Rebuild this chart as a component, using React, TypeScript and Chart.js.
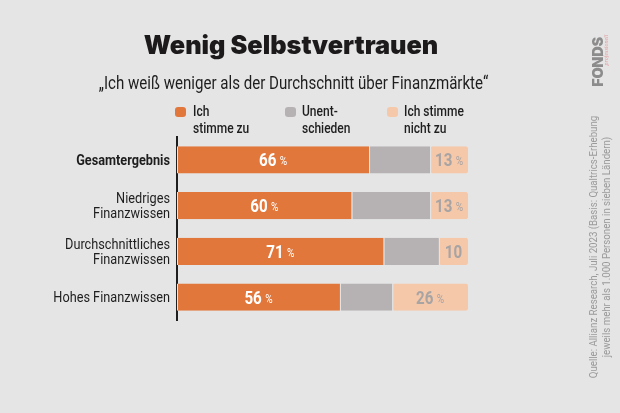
import React, { useEffect, useRef } from "react";
import { Chart, registerables } from "chart.js";

Chart.register(...registerables);

const categories: string[][] = [
  ["Gesamtergebnis"],
  ["Niedriges", "Finanzwissen"],
  ["Durchschnittliches", "Finanzwissen"],
  ["Hohes Finanzwissen"],
];
const agree = [66, 60, 71, 56];
const undecided = [21, 27, 19, 18];
const disagree = [13, 13, 10, 26];
const seriesNames = [["Ich", "stimme zu"], ["Unent-", "schieden"], ["Ich stimme", "nicht zu"]];

const BG = "#e5e5e5";
const ORANGE = "#e2773b";
const GREY = "#b6b2b4";
const LIGHT = "#f5c8aa";
const SANS = "Roboto, 'Noto Sans', sans-serif";
const K = 0.84; // horizontal condensing of text

const tickLabels = {
  id: "tickLabels",
  afterDraw(chart: any) {
    const s = chart.scales.y;
    const ctx = chart.ctx;
    const labels = chart.data.labels as string[][];
    s.ticks.forEach((_t: any, i: number) => {
      const y = s.getPixelForTick(i);
      const lines = labels[i];
      lines.forEach((ln, k) => {
        const ly = y + (k - (lines.length - 1) / 2) * 15;
        ctx.save();
        ctx.translate(s.right - 7, ly);
        ctx.scale(0.82, 1);
        ctx.fillStyle = "#1e1e1e";
        ctx.textAlign = "right";
        ctx.textBaseline = "middle";
        ctx.font = `${i === 0 ? "bold" : "normal"} 15.5px ${SANS}`;
        ctx.fillText(ln, 0, 1);
        ctx.restore();
      });
    });
  },
};

const valueLabels = {
  id: "valueLabels",
  afterDatasetsDraw(chart: any) {
    const ctx = chart.ctx;
    [0, 2].forEach((di) => {
      const meta = chart.getDatasetMeta(di);
      const values = chart.data.datasets[di].data as number[];
      meta.data.forEach((bar: any, j: number) => {
        const { x, base, y } = bar.getProps(["x", "base", "y"], true);
        const cx = (x + base) / 2;
        const v = values[j];
        const num = String(v);
        const pct = v >= 12 ? "%" : "";
        ctx.save();
        ctx.fillStyle = di === 0 ? "#ffffff" : "#a8a4a4";
        ctx.textBaseline = "alphabetic";
        ctx.font = `bold 18px ${SANS}`;
        const wn = ctx.measureText(num).width;
        ctx.font = `12px ${SANS}`;
        const wp = pct ? ctx.measureText(pct).width : 0;
        const gap = pct ? 4 : 0;
        const total = (wn + gap + wp) * K;
        ctx.translate(cx - total / 2, y);
        ctx.scale(K, 1);
        ctx.font = `bold 18px ${SANS}`;
        ctx.fillText(num, 0, 6.5);
        if (pct) {
          ctx.font = `12px ${SANS}`;
          ctx.fillText(pct, wn + gap, 5.5);
        }
        ctx.restore();
      });
    });
  },
};

export default function App() {
  const ref = useRef<HTMLCanvasElement | null>(null);

  useEffect(() => {
    if (!ref.current) return;
    const mk = (label: string, data: number[], color: string) => ({
      label,
      data,
      backgroundColor: color,
      borderColor: BG,
      borderWidth: { left: 1, right: 0, top: 0, bottom: 0 },
      borderRadius: 2,
      borderSkipped: false,
      categoryPercentage: 1,
      barPercentage: 0.6,
    });
    const chart = new Chart(ref.current, {
      type: "bar",
      data: {
        labels: categories,
        datasets: [
          mk(seriesNames[0].join(" "), agree, ORANGE),
          mk(seriesNames[1].join(" "), undecided, GREY),
          mk(seriesNames[2].join(" "), disagree, LIGHT),
        ] as any,
      },
      options: {
        indexAxis: "y",
        responsive: false,
        animation: false,
        devicePixelRatio: 1,
        layout: { padding: { left: 0, right: 152, top: 137, bottom: 93 } },
        plugins: { legend: { display: false }, tooltip: { enabled: false } },
        scales: {
          x: { stacked: true, min: 0, max: 100, display: false },
          y: {
            stacked: true,
            grid: { display: false, drawTicks: false },
            border: { display: true, color: "#1e1e1e", width: 2 },
            afterFit: (s: any) => {
              s.width = 177;
            },
            ticks: { display: false },
          },
        },
      } as any,
      plugins: [valueLabels, tickLabels],
    });
    return () => chart.destroy();
  }, []);

  const legendItem = (sq: number, tx: number, color: string, lines: string[]) => (
    <React.Fragment key={tx}>
      <div
        style={{
          position: "absolute",
          left: sq,
          top: 107,
          width: 11,
          height: 10,
          borderRadius: 3,
          background: color,
        }}
      />
      <div
        style={{
          position: "absolute",
          left: tx,
          top: 103,
          fontFamily: SANS,
          fontWeight: 500,
          fontSize: 15,
          lineHeight: "16.5px",
          color: "#1e1e1e",
          whiteSpace: "nowrap",
          transform: `scaleX(0.8)`,
          transformOrigin: "0 0",
        }}
      >
        {lines[0]}
        <br />
        {lines[1]}
      </div>
    </React.Fragment>
  );

  return (
    <div
      style={{
        position: "absolute",
        left: 0,
        top: 0,
        width: 620,
        height: 413,
        background: BG,
        overflow: "hidden",
      }}
    >
      <canvas ref={ref} width={620} height={413} style={{ position: "absolute", left: 0, top: 0 }} />
      <div
        style={{
          position: "absolute",
          left: 0,
          width: 582,
          top: 29,
          textAlign: "center",
          fontFamily: "Inter, Lato, sans-serif",
          fontWeight: 900,
          fontSize: 25.3,
          color: "#1c1a1a",
          lineHeight: "32px",
          whiteSpace: "nowrap",
        }}
      >
        Wenig Selbstvertrauen
      </div>
      <div
        style={{
          position: "absolute",
          left: 0,
          width: 587,
          top: 72,
          textAlign: "center",
          fontFamily: SANS,
          fontSize: 18.5,
          color: "#1e1e1e",
          lineHeight: "22px",
          whiteSpace: "nowrap",
          transform: `scaleX(0.815)`,
          transformOrigin: "50% 0",
        }}
      >
        „Ich weiß weniger als der Durchschnitt über Finanzmärkte“
      </div>
      {legendItem(175, 193, ORANGE, seriesNames[0])}
      {legendItem(285, 302, GREY, seriesNames[1])}
      {legendItem(387, 404, LIGHT, seriesNames[2])}
      <div
        style={{
          position: "absolute",
          left: 601 - 160,
          top: 247 - 14,
          width: 320,
          height: 28,
          transform: `rotate(-90deg) scaleX(${K})`,
          transformOrigin: "50% 50%",
          textAlign: "center",
          fontFamily: SANS,
          fontSize: 11.5,
          lineHeight: "12.5px",
          color: "#9a9a9a",
          whiteSpace: "nowrap",
        }}
      >
        Quelle: Allianz Research, Juli 2023 (Basis: Qualtrics-Erhebung
        <br />
        jeweils mehr als 1.000 Personen in sieben Ländern)
      </div>
      <div
        style={{
          position: "absolute",
          left: 598 - 40,
          top: 62 - 10,
          width: 80,
          height: 20,
          transform: "rotate(-90deg)",
          transformOrigin: "50% 50%",
          textAlign: "center",
          fontFamily: "Inter, Lato, sans-serif",
          fontWeight: 900,
          fontSize: 14.5,
          lineHeight: "20px",
          color: "#8c8c8c",
          letterSpacing: -0.3,
        }}
      >
        FONDS
      </div>
      <div
        style={{
          position: "absolute",
          left: 606 - 25,
          top: 50 - 4,
          width: 50,
          height: 8,
          transform: "rotate(-90deg)",
          transformOrigin: "50% 50%",
          textAlign: "center",
          fontFamily: "serif",
          fontStyle: "italic",
          fontSize: 6,
          lineHeight: "8px",
          color: "#e09a9a",
        }}
      >
        professionell
      </div>
    </div>
  );
}
